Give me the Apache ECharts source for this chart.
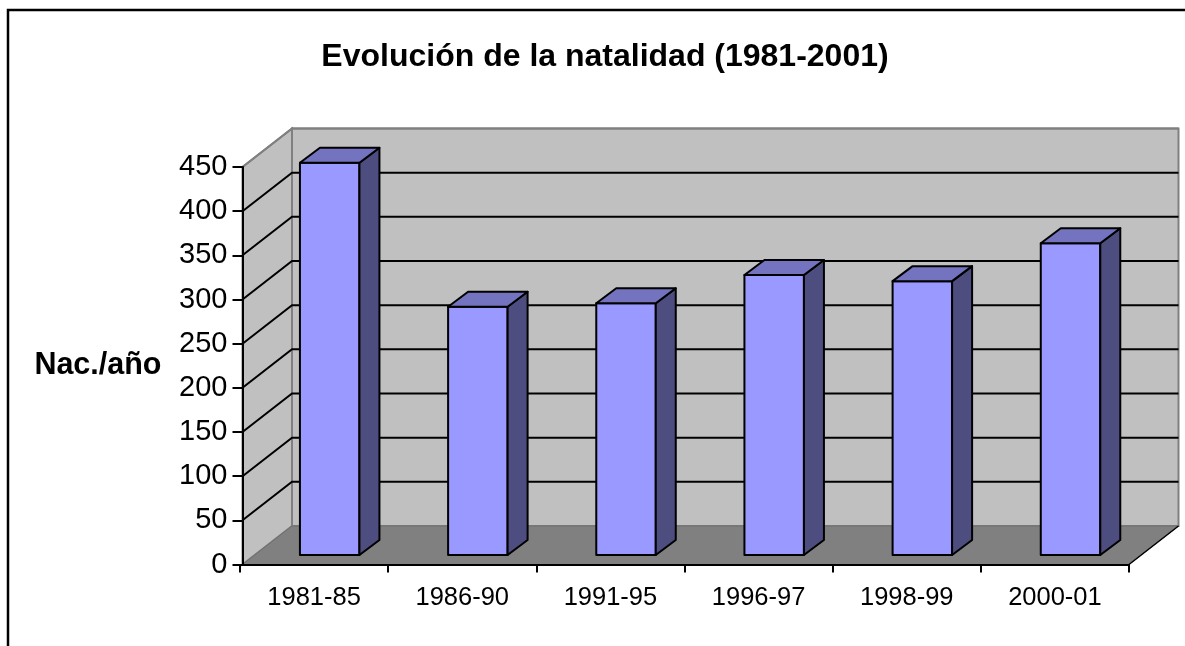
<!DOCTYPE html>
<html>
<head>
<meta charset="utf-8">
<style>
  html, body { margin: 0; padding: 0; background: #fff; overflow: hidden; }
  #chart { width: 1185px; height: 646px; }
</style>
<script src="https://cdn.jsdelivr.net/npm/echarts@6/dist/echarts.min.js"></script>
</head>
<body>
<div id="chart"></div>
<script>
const titleText = 'Evolución de la natalidad (1981-2001)'
const yAxisName = 'Nac./año'
const categories = ['1981-85', '1986-90', '1991-95', '1996-97', '1998-99', '2000-01']
const births = [444, 281, 285, 317, 310, 353]
const gridTicks = [50, 100, 150, 200, 250, 300, 350, 400, 450]

// fake 3D depth, px
const wallDx = 49.5
const wallDy = 38.5
const barDx = 20
const barDy = 15
const barShiftX = 15.6
const barShiftY = 9.5
const barWidth = 59.5
// first band is a bit narrower than the others in the original
const axisInset = 2.5

const fontFamily = '"Liberation Sans", Arial, sans-serif'
const chart = echarts.init(document.getElementById('chart'))

// walls and floor
const renderWalls = (params) => {
  const { y, width, height: h } = params.coordSys
  const x = params.coordSys.x + axisInset
  const w = width - axisInset
  const b = y + h
  const poly = (points, fill, stroke, lineWidth) => ({
    type: 'polygon',
    shape: { points },
    style: { fill, stroke, lineWidth }
  })
  return {
    type: 'group',
    children: [
      poly([[x, y], [x + wallDx, y - wallDy], [x + wallDx, b - wallDy], [x, b]], '#c0c0c0', '#808080', 2),
      poly([[x + wallDx, y - wallDy], [x + w + wallDx, y - wallDy], [x + w + wallDx, b - wallDy], [x + wallDx, b - wallDy]], '#c0c0c0', '#808080', 2),
      poly([[x, b], [x + wallDx, b - wallDy], [x + w + wallDx, b - wallDy], [x + w, b]], '#808080', '#6e6e6e', 1),
      {
        type: 'line',
        shape: { x1: x + w, y1: b, x2: x + w + wallDx, y2: b - wallDy },
        style: { stroke: '#000', lineWidth: 1.5 }
      }
    ]
  }
}

// grid lines on side and back wall
const renderGridLine = (params, api) => {
  const x = params.coordSys.x + axisInset
  const w = params.coordSys.width - axisInset
  const value = api.value(0)
  const py = api.coord([0, value])[1]
  const color = value === 450 ? '#808080' : '#000'
  return {
    type: 'polyline',
    shape: { points: [[x, py], [x + wallDx, py - wallDy], [x + w + wallDx, py - wallDy]] },
    style: { fill: 'none', stroke: color, lineWidth: 2 }
  }
}

const renderBar = (params, api) => {
  const top = api.coord([api.value(0), api.value(1)])
  const base = api.coord([api.value(0), 0])
  const l = top[0] + barShiftX - barWidth / 2
  const r = l + barWidth
  const t = top[1] - barShiftY
  const b = base[1] - barShiftY
  const face = (points, fill) => ({
    type: 'polygon',
    shape: { points },
    style: { fill, stroke: '#000', lineWidth: 2, lineJoin: 'round' }
  })
  return {
    type: 'group',
    children: [
      face([[l, t], [r, t], [r, b], [l, b]], '#9999ff'),
      face([[r, t], [r + barDx, t - barDy], [r + barDx, b - barDy], [r, b]], '#4d4d80'),
      face([[l, t], [l + barDx, t - barDy], [r + barDx, t - barDy], [r, t]], '#7373bf')
    ]
  }
}

chart.setOption({
  animation: false,
  backgroundColor: '#fff',
  title: {
    text: titleText,
    left: 600,
    top: 36,
    textAlign: 'center',
    textStyle: { fontFamily, fontSize: 32, fontWeight: 'bold', color: '#000' }
  },
  graphic: [
    {
      type: 'rect',
      shape: { x: 8, y: 10, width: 1300, height: 800 },
      style: { fill: 'none', stroke: '#000', lineWidth: 2.5 },
      silent: true,
      z: 100
    }
  ],
  grid: { left: 240, right: 56, top: 167, bottom: 81.5 },
  xAxis: {
    type: 'category',
    data: categories,
    z: 10,
    axisLine: { lineStyle: { color: '#000', width: 2 } },
    axisTick: { show: true, length: 8, lineStyle: { color: '#000', width: 2 } },
    axisLabel: { fontFamily, fontSize: 25.5, color: '#000', margin: 20 },
    splitLine: { show: false }
  },
  yAxis: {
    type: 'value',
    min: 0,
    max: 450,
    interval: 50,
    offset: -axisInset,
    z: 10,
    name: yAxisName,
    nameLocation: 'middle',
    nameRotate: 0,
    nameGap: 81,
    nameTextStyle: { fontFamily, fontSize: 30.5, fontWeight: 'bold', color: '#000' },
    axisLine: { show: true, lineStyle: { color: '#000', width: 2 } },
    axisTick: { show: true, length: 10, lineStyle: { color: '#000', width: 2 } },
    axisLabel: { fontFamily, fontSize: 29, color: '#000', margin: 15 },
    splitLine: { show: false }
  },
  series: [
    {
      type: 'custom',
      renderItem: renderWalls,
      data: [0],
      clip: false,
      silent: true,
      z: 1
    },
    {
      type: 'custom',
      renderItem: renderGridLine,
      data: gridTicks.map((v) => [v]),
      encode: { y: 0 },
      clip: false,
      silent: true,
      z: 2
    },
    {
      type: 'custom',
      renderItem: renderBar,
      data: births.map((v, i) => [i, v]),
      encode: { x: 0, y: 1 },
      clip: false,
      z: 3
    }
  ]
})
</script>
</body>
</html>
